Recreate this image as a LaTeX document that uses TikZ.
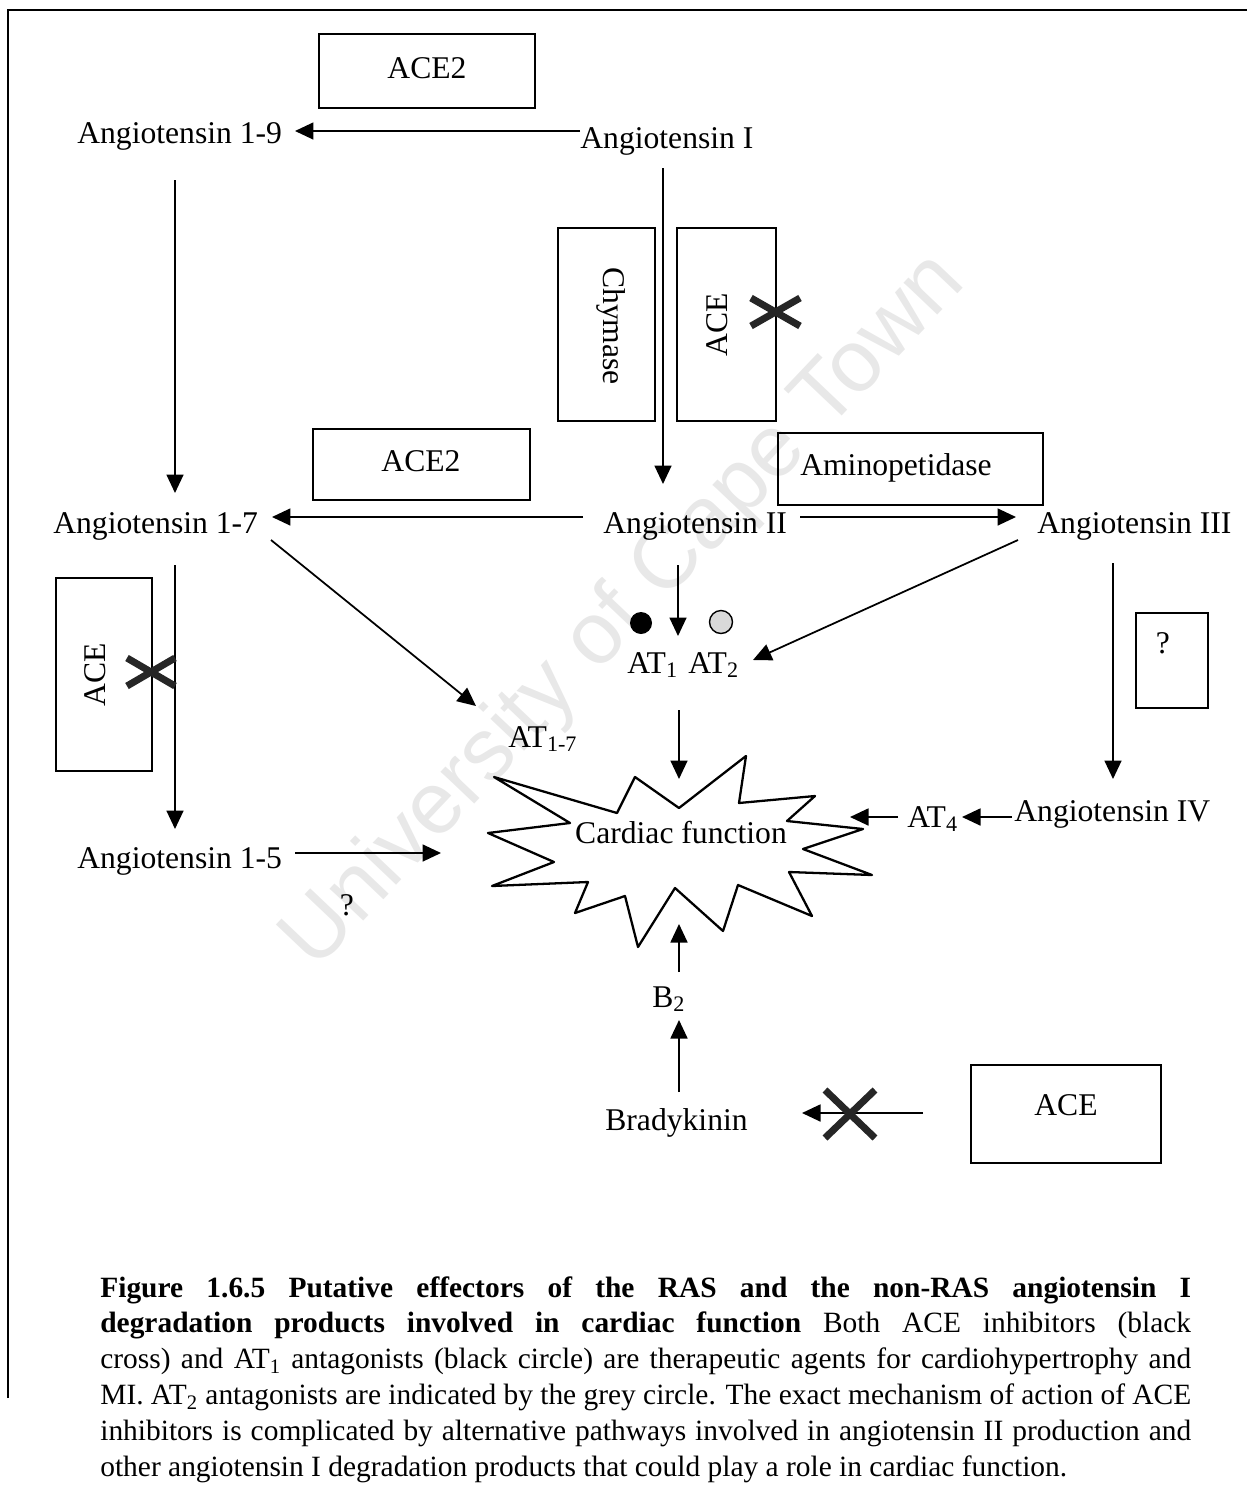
\documentclass[tikz,border=0pt]{standalone}
\usepackage{fontspec}
\setmainfont{Liberation Serif}
\newfontfamily\wmfont{Liberation Sans}
\usetikzlibrary{arrows.meta,fit}

\begin{document}
\begin{tikzpicture}[x=0.02cm,y=-0.02cm,
  font=\fontsize{18}{21}\selectfont,
  lbl/.style={inner sep=0pt, anchor=base west},
  lblc/.style={inner sep=0pt, anchor=base},
  vlbl/.style={inner sep=0pt},
  box/.style={draw, line width=1.1pt, inner sep=0pt},
  arr/.style={line width=1pt, -{Triangle[length=0.37cm,width=0.34cm]}},
  block/.style={line width=4pt, black!85},
  burst/.style={draw, line width=1.3pt, line join=round, fill=white}]

\useasboundingbox (0,0) rectangle (1247,1498);

% watermark behind everything
\node[rotate=46.5, text=black!9, font=\wmfont\fontsize{50}{50}\selectfont] (wm) at (625,612) {University of Cape Town};

% frame
\draw[line width=1.2pt] (8,1398) -- (8,10) -- (1247,10);

% enzyme boxes
\node[box, fit={(319,34)(535,108)}] (ace2a) {};
\node[box, fit={(558,228)(655,421)}] (chym) {};
\node[box, fit={(677,228)(776,421)}] (aceA) {};
\node[box, fit={(313,429)(530,500)}] (ace2b) {};
\node[box, fit={(778,433)(1043,505)}] (amino) {};
\node[box, fit={(56,578)(152,771)}] (aceB) {};
\node[box, fit={(1136,613)(1208,708)}] (qbox) {};
\node[box, fit={(971,1065)(1161,1163)}] (aceC) {};

\node[lblc] (ace2at) at (427,78) {ACE2};
\node[vlbl, rotate=-90] (chymt) at (611,326) {Chymase};
\node[vlbl, rotate=90] (aceAt) at (717,325) {ACE};
\node[lblc] (ace2bt) at (421,471) {ACE2};
\node[lblc] (aminot) at (896,475) {Aminopetidase};
\node[vlbl, rotate=90] (aceBt) at (95,675) {ACE};
\node[lblc] (qboxt) at (1163,653) {?};
\node[lblc] (aceCt) at (1066,1115) {ACE};

% peptides and receptors
\node[lbl] (ang19) at (77,143) {Angiotensin 1-9};
\node[lbl] (angI) at (580,148) {Angiotensin I};
\node[lbl] (ang17) at (53,533) {Angiotensin 1-7};
\node[lbl] (angII) at (603,533) {Angiotensin II};
\node[lbl] (angIII) at (1037,533) {Angiotensin III};
\node[lbl] (ang15) at (77,868) {Angiotensin 1-5};
\node[lbl] (angIV) at (1014,821) {Angiotensin IV};
\node[lbl] (at1) at (627,673) {AT\textsubscript{1}};
\node[lbl] (at2) at (688,673) {AT\textsubscript{2}};
\node[lbl] (at17) at (508,747) {AT\textsubscript{1-7}};
\node[lbl] (at4) at (907,827) {AT\textsubscript{4}};
\node[lbl] (b2) at (652,1007) {B\textsubscript{2}};
\node[lbl] (brady) at (605,1130) {Bradykinin};
\node[lblc] (q15) at (347,915) {?};

% antagonist markers
\node[circle, fill=black, minimum size=0.44cm, inner sep=0pt] (blk) at (641,623) {};
\node[circle, draw, line width=0.8pt, fill=black!15, minimum size=0.46cm, inner sep=0pt] (gry) at (721,622) {};

% cardiac function burst
\draw[burst] (494,777) -- (617,813) -- (635,777) -- (679,808) -- (746,756)
  -- (739,803) -- (815,796) -- (787,821) -- (863,829) -- (803,849)
  -- (872,875) -- (789,872) -- (812,916) -- (738,885) -- (723,931)
  -- (675,888) -- (638,947) -- (625,896) -- (575,913) -- (588,882)
  -- (492,886) -- (554,862) -- (488,833) -- (570,823) -- cycle;
\node[lblc] (cardiac) at (681,843) {Cardiac function};

% connector end points
\coordinate (c1a) at (580,131);  \coordinate (c1b) at (295,131);
\coordinate (c2a) at (175,180);  \coordinate (c2b) at (175,493);
\coordinate (c3a) at (663,168);  \coordinate (c3b) at (663,484);
\coordinate (c4a) at (583,517);  \coordinate (c4b) at (272,517);
\coordinate (c5a) at (800,517);  \coordinate (c5b) at (1016,517);
\coordinate (c6a) at (678,565);  \coordinate (c6b) at (678,636);
\coordinate (c7a) at (1018,540); \coordinate (c7b) at (753,660);
\coordinate (c8a) at (271,540);  \coordinate (c8b) at (476,706);
\coordinate (c9a) at (175,565);  \coordinate (c9b) at (175,829);
\coordinate (c10a) at (295,853); \coordinate (c10b) at (441,853);
\coordinate (c11a) at (1113,563);\coordinate (c11b) at (1113,779);
\coordinate (c12a) at (1012,817);\coordinate (c12b) at (962,817);
\coordinate (c13a) at (898,817); \coordinate (c13b) at (850,817);
\coordinate (c14a) at (679,710); \coordinate (c14b) at (679,779);
\coordinate (c15a) at (679,972); \coordinate (c15b) at (679,924);
\coordinate (c16a) at (679,1092);\coordinate (c16b) at (679,1020);
\coordinate (c17a) at (923,1113);\coordinate (c17b) at (802,1113);

\draw[arr] (c1a) -- (c1b);
\draw[arr] (c2a) -- (c2b);
\draw[arr] (c3a) -- (c3b);
\draw[arr] (c4a) -- (c4b);
\draw[arr] (c5a) -- (c5b);
\draw[arr] (c6a) -- (c6b);
\draw[arr] (c7a) -- (c7b);
\draw[arr] (c8a) -- (c8b);
\draw[arr] (c9a) -- (c9b);
\draw[arr] (c10a) -- (c10b);
\draw[arr] (c11a) -- (c11b);
\draw[arr] (c12a) -- (c12b);
\draw[arr] (c13a) -- (c13b);
\draw[arr] (c14a) -- (c14b);
\draw[arr] (c15a) -- (c15b);
\draw[arr] (c16a) -- (c16b);
\draw[arr] (c17a) -- (c17b);

% inhibitor crosses
\draw[block] (751,298) -- (800,326) (751,326) -- (800,298);
\draw[block] (127,658) -- (175,686) (127,686) -- (175,658);
\draw[block] (825,1090) -- (875,1138) (825,1138) -- (875,1090);

% caption
\node[inner sep=0pt, anchor=base west] (caption) at (100,1297) {\parbox[t]{21.82cm}{\fontsize{16.75}{20.4}\selectfont
\textbf{Figure 1.6.5 Putative effectors of the RAS and the non-RAS angiotensin I}\linebreak
\textbf{degradation products involved in cardiac function} Both ACE inhibitors (black\linebreak
cross) and AT\textsubscript{1} antagonists (black circle) are therapeutic agents for cardiohypertrophy and\linebreak
MI. AT\textsubscript{2} antagonists are indicated by the grey circle. The exact mechanism of action of ACE\linebreak
inhibitors is complicated by alternative pathways involved in angiotensin II production and\linebreak
other angiotensin I degradation products that could play a role in cardiac function.}};

\end{tikzpicture}
\end{document}
